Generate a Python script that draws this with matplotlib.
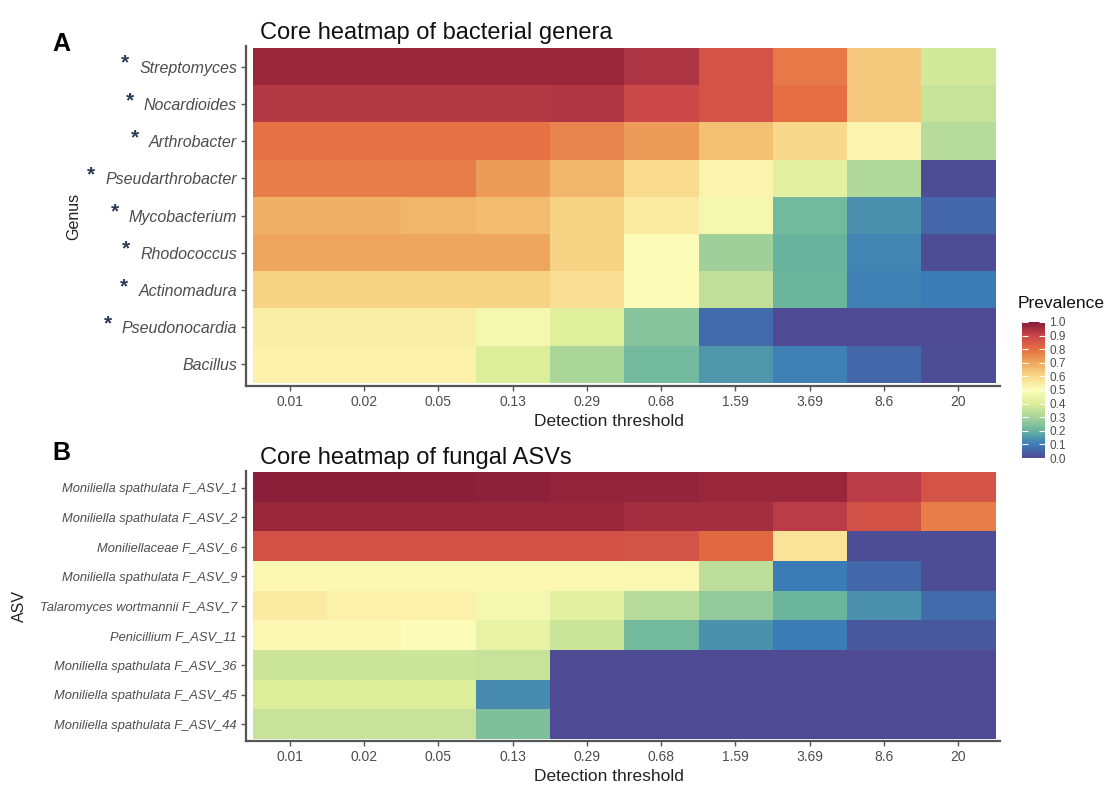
import numpy as np
import matplotlib
matplotlib.use("Agg")
import matplotlib.pyplot as plt
from matplotlib.colors import LinearSegmentedColormap

plt.rcParams['font.family'] = ['Liberation Sans', 'DejaVu Sans']

thresholds = ["0.01", "0.02", "0.05", "0.13", "0.29", "0.68", "1.59", "3.69", "8.6", "20"]

# Panel A: bacterial genera (top to bottom)
genera = ["Streptomyces", "Nocardioides", "Arthrobacter", "Pseudarthrobacter",
          "Mycobacterium", "Rhodococcus", "Actinomadura", "Pseudonocardia", "Bacillus"]
starred = [True, True, True, True, True, True, True, True, False]
genera_prev = [
    [0.97, 0.97, 0.97, 0.97, 0.97, 0.94, 0.86, 0.78, 0.63, 0.38],
    [0.93, 0.93, 0.93, 0.93, 0.935, 0.89, 0.86, 0.80, 0.63, 0.36],
    [0.79, 0.79, 0.79, 0.79, 0.76, 0.72, 0.65, 0.60, 0.52, 0.33],
    [0.77, 0.77, 0.77, 0.72, 0.67, 0.59, 0.52, 0.42, 0.32, 0.01],
    [0.68, 0.68, 0.67, 0.66, 0.61, 0.55, 0.47, 0.22, 0.14, 0.06],
    [0.70, 0.70, 0.70, 0.70, 0.61, 0.50, 0.29, 0.20, 0.12, 0.01],
    [0.61, 0.61, 0.61, 0.61, 0.58, 0.50, 0.35, 0.21, 0.11, 0.10],
    [0.54, 0.54, 0.54, 0.47, 0.41, 0.25, 0.07, 0.00, 0.00, 0.00],
    [0.53, 0.53, 0.53, 0.40, 0.31, 0.22, 0.15, 0.11, 0.06, 0.01],
]

# Panel B: fungal ASVs (top to bottom)
asvs = ["Moniliella spathulata F_ASV_1", "Moniliella spathulata F_ASV_2",
        "Moniliellaceae F_ASV_6", "Moniliella spathulata F_ASV_9",
        "Talaromyces wortmannii F_ASV_7", "Penicillium F_ASV_11",
        "Moniliella spathulata F_ASV_36", "Moniliella spathulata F_ASV_45",
        "Moniliella spathulata F_ASV_44"]
asv_prev = [
    [0.99, 0.99, 0.99, 0.985, 0.98, 0.98, 0.97, 0.97, 0.92, 0.86],
    [0.97, 0.97, 0.97, 0.97, 0.97, 0.955, 0.955, 0.92, 0.87, 0.77],
    [0.87, 0.87, 0.87, 0.87, 0.87, 0.865, 0.81, 0.57, 0.01, 0.01],
    [0.51, 0.51, 0.51, 0.51, 0.51, 0.51, 0.34, 0.10, 0.06, 0.01],
    [0.55, 0.53, 0.53, 0.47, 0.42, 0.33, 0.27, 0.21, 0.14, 0.07],
    [0.51, 0.51, 0.50, 0.44, 0.37, 0.22, 0.14, 0.10, 0.03, 0.03],
    [0.37, 0.37, 0.37, 0.36, 0.00, 0.00, 0.00, 0.00, 0.00, 0.00],
    [0.40, 0.40, 0.40, 0.13, 0.00, 0.00, 0.00, 0.00, 0.00, 0.00],
    [0.36, 0.36, 0.36, 0.24, 0.00, 0.00, 0.00, 0.00, 0.00, 0.00],
]

# muted Spectral palette, low -> high
pal = ["#4f4a94", "#3b7cb7", "#67b39e", "#a6d49a", "#ddee9a", "#fdfcb9",
       "#f8d98b", "#efa85f", "#e56e42", "#c9464a", "#861c38"]
cmap = LinearSegmentedColormap.from_list("spec", pal)

W, H = 1108, 787
fig = plt.figure(figsize=(W / 100, H / 100), dpi=100)
axis_col = '#555555'


def heat(ax, vals, rows, title, ylabel, ysize, xpad):
    im = ax.imshow(np.array(vals), cmap=cmap, vmin=0, vmax=1, aspect='auto',
                   interpolation='nearest')
    ax.set_xlim(-0.594, 9.567)
    ax.set_ylim(8.5 + xpad, -0.56)
    ax.set_xticks(range(len(thresholds)))
    ax.set_xticklabels(thresholds, fontsize=10, color='#4d4d4d')
    ax.set_yticks(range(len(rows)))
    ax.set_yticklabels(rows, fontsize=ysize, color='#4d4d4d', style='italic')
    ax.tick_params(length=3.5, width=1, color=axis_col, pad=3)
    for s in ['top', 'right']:
        ax.spines[s].set_visible(False)
    for s in ['left', 'bottom']:
        ax.spines[s].set_color(axis_col)
        ax.spines[s].set_linewidth(1.6)
    ax.set_xlabel("Detection threshold", fontsize=12.5, color='#222222')
    ax.set_ylabel(ylabel, fontsize=11.5, color='#222222')
    ax.set_title(title, loc='left', fontsize=17, color='#111111', pad=5, x=0.018)
    return im


axA = fig.add_axes([246 / W, 1 - 386 / H, 754 / W, 340 / H])
im = heat(axA, genera_prev, genera, "Core heatmap of bacterial genera", "Genus", 11.5, 0.08)
axB = fig.add_axes([246 / W, 1 - 741 / H, 754 / W, 270 / H])
heat(axB, asv_prev, asvs, "Core heatmap of fungal ASVs", "ASV", 9.3, 0.06)
axA.yaxis.set_label_coords(-0.219, 0.5)
axB.yaxis.set_label_coords(-0.290, 0.5)
axA.xaxis.set_label_coords(0.482, -28 / 340, )
axB.xaxis.set_label_coords(0.482, -28 / 270)
axA.xaxis.label.set_va('top')
axB.xaxis.label.set_va('top')

fig.text(52 / W, 1 - 44 / H, "A", fontsize=18, fontweight='bold', va='center')
fig.text(52 / W, 1 - 453 / H, "B", fontsize=18, fontweight='bold', va='center')

# colourbar
cax = fig.add_axes([1022 / W, 1 - 458 / H, 23 / W, 136 / H])
cb = fig.colorbar(im, cax=cax, ticks=np.round(np.arange(0, 1.01, 0.1), 1))
cb.outline.set_visible(False)
cb.ax.set_yticklabels([f"{t:.1f}" for t in np.arange(0, 1.01, 0.1)], fontsize=8.5,
                      color='#4d4d4d')
cax.tick_params(direction='in', color='white', length=4, width=0.8, pad=3,
                left=True, right=True)
fig.text(1018 / W, 1 - 304 / H, "Prevalence", fontsize=12.5, color='#111111', va='center')

# asterisks for starred genera
fig.canvas.draw()
rend = fig.canvas.get_renderer()
for lab, st in zip(axA.get_yticklabels(), starred):
    if st:
        bb = lab.get_window_extent(rend)
        fig.text((bb.x0 - 14) / W, (bb.y0 + bb.height / 2 + 5) / H, "*",
                 fontsize=15, fontweight='bold', color='#2b3a55',
                 ha='center', va='center')

fig.savefig("out.png", dpi=100)
